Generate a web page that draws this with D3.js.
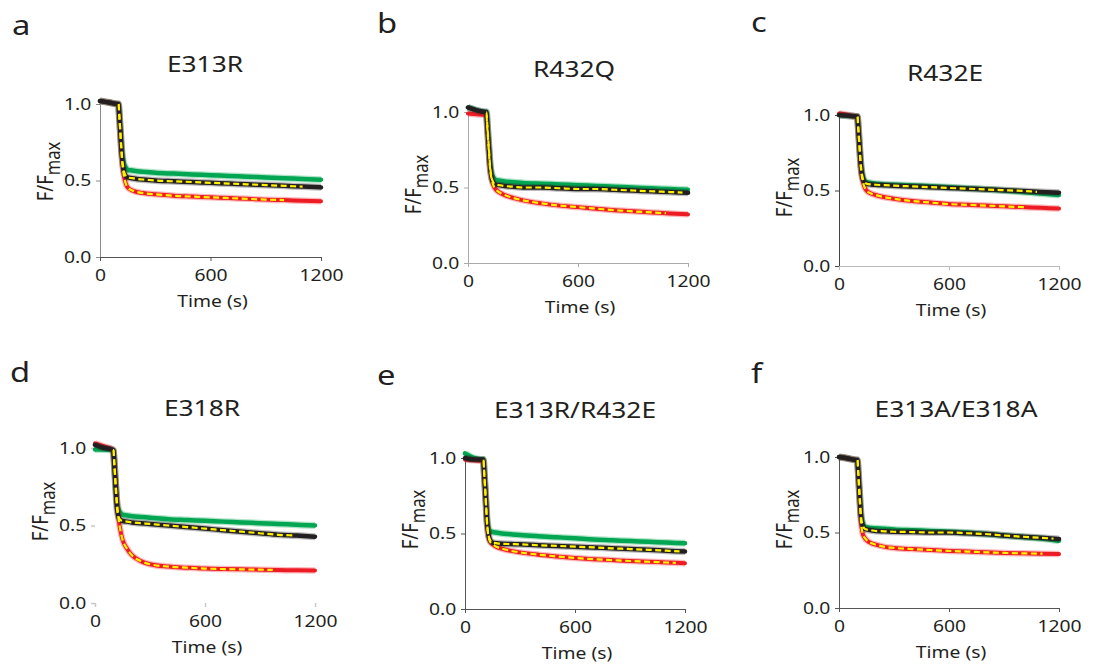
<!DOCTYPE html>
<html>
<head>
<meta charset="utf-8">
<script src="https://cdn.jsdelivr.net/npm/d3@7"></script>
<style>
body { margin: 0; background: #fff; }
svg { display: block; font-family: "Noto Sans", sans-serif; }
</style>
</head>
<body>
<svg id="chart" width="1094" height="668"></svg>
<script>
// Time points (s) shared by every trace
var timeS = [0, 50, 95, 100, 105, 110, 115, 120, 130, 140, 150, 175, 200, 250, 300, 400, 500, 600, 700, 800, 900, 1000, 1100, 1200];

// a - E313R
var e313rGreen = [1.02, 1.01, 1.0, 1.0, 0.93, 0.84, 0.75, 0.68, 0.61, 0.585, 0.57, 0.565, 0.56, 0.555, 0.55, 0.545, 0.54, 0.535, 0.53, 0.525, 0.52, 0.515, 0.51, 0.505];
var e313rBlack = [1.02, 1.01, 1.0, 1.0, 0.92, 0.83, 0.73, 0.65, 0.56, 0.53, 0.52, 0.515, 0.51, 0.505, 0.50, 0.495, 0.49, 0.485, 0.48, 0.475, 0.47, 0.465, 0.46, 0.455];
var e313rRed = [1.02, 1.01, 1.0, 1.0, 0.92, 0.82, 0.72, 0.63, 0.53, 0.48, 0.455, 0.435, 0.425, 0.415, 0.41, 0.40, 0.395, 0.39, 0.385, 0.38, 0.375, 0.372, 0.368, 0.365];

// b - R432Q
var r432qGreen = [1.03, 1.01, 1.0, 1.0, 0.93, 0.84, 0.75, 0.67, 0.59, 0.565, 0.55, 0.545, 0.54, 0.535, 0.53, 0.525, 0.52, 0.515, 0.51, 0.505, 0.50, 0.495, 0.49, 0.485];
var r432qBlack = [1.03, 1.01, 1.0, 1.0, 0.92, 0.83, 0.74, 0.65, 0.56, 0.53, 0.52, 0.515, 0.51, 0.505, 0.50, 0.50, 0.495, 0.49, 0.49, 0.485, 0.48, 0.475, 0.47, 0.465];
var r432qRed = [0.99, 0.985, 0.98, 0.98, 0.90, 0.81, 0.72, 0.63, 0.55, 0.51, 0.49, 0.465, 0.45, 0.43, 0.415, 0.395, 0.38, 0.37, 0.36, 0.35, 0.342, 0.335, 0.328, 0.322];

// c - R432E
var r432eGreen = [1.0, 0.995, 0.99, 0.99, 0.92, 0.83, 0.74, 0.66, 0.59, 0.565, 0.555, 0.55, 0.545, 0.54, 0.538, 0.533, 0.528, 0.522, 0.515, 0.508, 0.50, 0.49, 0.48, 0.47];
var r432eBlack = [1.0, 0.995, 0.99, 0.99, 0.92, 0.83, 0.74, 0.66, 0.58, 0.555, 0.545, 0.54, 0.538, 0.535, 0.532, 0.527, 0.522, 0.517, 0.512, 0.507, 0.502, 0.497, 0.49, 0.485];
var r432eRed = [1.01, 1.0, 0.99, 0.99, 0.91, 0.82, 0.72, 0.64, 0.56, 0.52, 0.50, 0.48, 0.47, 0.455, 0.445, 0.43, 0.42, 0.41, 0.405, 0.40, 0.395, 0.39, 0.385, 0.38];

// d - E318R
var e318rGreen = [0.99, 0.99, 0.985, 0.98, 0.91, 0.82, 0.73, 0.65, 0.60, 0.58, 0.57, 0.565, 0.56, 0.555, 0.55, 0.54, 0.535, 0.53, 0.525, 0.52, 0.515, 0.51, 0.505, 0.50];
var e318rBlack = [1.02, 1.0, 0.99, 0.985, 0.90, 0.80, 0.70, 0.61, 0.55, 0.535, 0.53, 0.525, 0.52, 0.515, 0.51, 0.50, 0.49, 0.48, 0.47, 0.46, 0.45, 0.44, 0.435, 0.428];
var e318rRed = [1.03, 1.01, 0.99, 0.985, 0.91, 0.82, 0.73, 0.65, 0.53, 0.46, 0.41, 0.35, 0.31, 0.27, 0.25, 0.235, 0.228, 0.222, 0.219, 0.217, 0.215, 0.213, 0.211, 0.21];

// e - E313R/R432E
var dblRRGreen = [1.03, 1.0, 0.99, 0.99, 0.90, 0.80, 0.70, 0.60, 0.53, 0.515, 0.51, 0.505, 0.50, 0.495, 0.49, 0.482, 0.475, 0.468, 0.46, 0.455, 0.45, 0.445, 0.44, 0.435];
var dblRRBlack = [1.0, 0.99, 0.99, 0.99, 0.90, 0.80, 0.69, 0.58, 0.48, 0.45, 0.44, 0.435, 0.432, 0.43, 0.428, 0.422, 0.418, 0.413, 0.408, 0.402, 0.397, 0.392, 0.386, 0.38];
var dblRRRed = [0.99, 0.985, 0.98, 0.98, 0.89, 0.79, 0.68, 0.57, 0.47, 0.44, 0.43, 0.41, 0.40, 0.385, 0.375, 0.36, 0.348, 0.338, 0.33, 0.324, 0.318, 0.313, 0.308, 0.303];

// f - E313A/E318A
var dblAAGreen = [1.0, 0.99, 0.98, 0.98, 0.90, 0.80, 0.70, 0.62, 0.56, 0.54, 0.535, 0.53, 0.528, 0.525, 0.52, 0.515, 0.51, 0.505, 0.50, 0.49, 0.48, 0.47, 0.46, 0.446];
var dblAABlack = [1.0, 0.99, 0.98, 0.98, 0.90, 0.80, 0.70, 0.61, 0.545, 0.525, 0.52, 0.515, 0.51, 0.508, 0.505, 0.503, 0.50, 0.50, 0.495, 0.49, 0.48, 0.472, 0.465, 0.457];
var dblAARed = [1.0, 0.99, 0.98, 0.98, 0.89, 0.78, 0.67, 0.57, 0.49, 0.465, 0.45, 0.43, 0.42, 0.405, 0.398, 0.39, 0.384, 0.378, 0.374, 0.369, 0.365, 0.362, 0.36, 0.357];

var panelLetters = ["a", "b", "c", "d", "e", "f"];
var panelTitles = ["E313R", "R432Q", "R432E", "E318R", "E313R/R432E", "E313A/E318A"];
var greenSeries = [e313rGreen, r432qGreen, r432eGreen, e318rGreen, dblRRGreen, dblAAGreen];
var blackSeries = [e313rBlack, r432qBlack, r432eBlack, e318rBlack, dblRRBlack, dblAABlack];
var redSeries = [e313rRed, r432qRed, r432eRed, e318rRed, dblRRRed, dblAARed];
// where the yellow fit curves stop (s)
var fitStart = 95;
var fitEndBlack = [1100, 1170, 1080, 1080, 1170, 1170];
var fitEndRed = [1000, 1080, 1010, 970, 1150, 1110];

var xTicks = [0, 600, 1200];
var yTicks = [0, 0.5, 1.0];

// page layout of each panel
var layout = [
    {x0: 100, x1: 321, yTop: 104, yBot: 257, tx: 205, ty: 72, lx: 12, ly: 35, labDy: -9, yc: "#8a8a8a", xc: "#555"},
    {x0: 468, x1: 688, yTop: 112, yBot: 263, tx: 574, ty: 77, lx: 377, ly: 33, labDy: -3, yc: "#aaa", xc: "#aaa"},
    {x0: 839, x1: 1059, yTop: 115, yBot: 266, tx: 945, ty: 81, lx: 751, ly: 32, labDy: -3, yc: "#444", xc: "#bbb"},
    {x0: 95, x1: 315, yTop: 448, yBot: 603, tx: 202, ty: 416, lx: 10, ly: 382, labDy: -14, yc: null, xc: null},
    {x0: 465, x1: 685, yTop: 458, yBot: 609, tx: 575, ty: 418, lx: 377, ly: 385, labDy: -14, yc: "#555", xc: "#555"},
    {x0: 839, x1: 1059, yTop: 457, yBot: 608, tx: 956, ty: 417, lx: 751, ly: 383, labDy: -13, yc: "#555", xc: "#555"}
];

var SX = 1.17;          // text in the figure is set wide
var ink = "#231f20";
var cGreen = "#00a651", cRed = "#ed1c24", cBlack = "#231f20", cYellow = "#fff200";

var svg = d3.select("#chart");

panelTitles.forEach(function (title, i) {
    var L = layout[i];
    var x = d3.scaleLinear().domain([0, 1200]).range([L.x0, L.x1]);
    var y = d3.scaleLinear().domain([0, 1]).range([L.yBot, L.yTop]);
    var g = svg.append("g");

    // Axes
    var yAxis = g.append("g")
        .attr("transform", "translate(" + L.x0 + ",0)")
        .call(d3.axisLeft(y).tickValues(yTicks).tickFormat(d3.format(".1f"))
            .tickSize(4).tickSizeOuter(0).tickPadding(3.5));
    var xAxis = g.append("g")
        .attr("transform", "translate(0," + L.yBot + ")")
        .call(d3.axisBottom(x).tickValues(xTicks).tickFormat(d3.format("d"))
            .tickSize(4).tickSizeOuter(0).tickPadding(8));

    [[yAxis, L.yc], [xAxis, L.xc]].forEach(function (p) {
        var ax = p[0], col = p[1];
        ax.attr("font-family", null).attr("font-size", null);
        if (col) {
            ax.select(".domain").attr("stroke", col).attr("stroke-width", 1);
            ax.selectAll(".tick line").attr("stroke", col);
        } else {
            ax.select(".domain").remove();
            ax.selectAll(".tick line").attr("stroke", "#c8c8c8").attr("stroke-width", 1.5);
        }
        ax.selectAll("text")
            .attr("fill", ink)
            .style("font-size", "16.5px")
            .attr("transform", "scale(" + SX + ",1)");
    });

    // Traces
    var line = d3.line()
        .x(function (d, j) { return x(timeS[j]); })
        .y(function (d) { return y(d); })
        .curve(d3.curveMonotoneX);

    [[greenSeries[i], cGreen, 4.5], [redSeries[i], cRed, 4], [blackSeries[i], cBlack, 4.5]].forEach(function (s) {
        g.append("path").datum(s[0])
            .attr("d", line).attr("fill", "none")
            .attr("stroke", s[1]).attr("stroke-width", s[2] + 2.5)
            .attr("stroke-opacity", 0.3).attr("stroke-linejoin", "round");
        g.append("path").datum(s[0])
            .attr("d", line).attr("fill", "none")
            .attr("stroke", s[1]).attr("stroke-width", s[2])
            .attr("stroke-linejoin", "round").attr("stroke-linecap", "round");
    });

    // Yellow dashed fits over black and red
    [[blackSeries[i], fitEndBlack[i], "fb"], [redSeries[i], fitEndRed[i], "fr"]].forEach(function (f) {
        var id = f[2] + i;
        svg.append("clipPath").attr("id", id)
            .append("rect")
            .attr("x", x(fitStart)).attr("y", L.yTop - 20)
            .attr("width", x(f[1]) - x(fitStart))
            .attr("height", L.yBot - L.yTop + 40);
        g.append("path").datum(f[0])
            .attr("d", line).attr("fill", "none")
            .attr("stroke", cYellow).attr("stroke-width", 2.2)
            .attr("stroke-dasharray", "6,3.5")
            .attr("clip-path", "url(#" + id + ")");
    });

    // Texts
    g.append("text")
        .attr("transform", "translate(" + L.lx + "," + L.ly + ") scale(" + SX + ",1)")
        .attr("fill", ink).style("font-size", "28px")
        .text(panelLetters[i]);

    g.append("text")
        .attr("transform", "translate(" + L.tx + "," + L.ty + ") scale(" + SX + ",1)")
        .attr("text-anchor", "middle").attr("fill", ink).style("font-size", "22.5px")
        .text(title);

    g.append("text")
        .attr("transform", "translate(" + ((L.x0 + L.x1) / 2 + 2) + "," + (L.yBot + 50) + ") scale(" + SX + ",1)")
        .attr("text-anchor", "middle").attr("fill", ink).style("font-size", "16.5px")
        .text("Time (s)");

    var yl = g.append("text")
        .attr("transform", "translate(" + (L.x0 - 47) + "," + ((L.yTop + L.yBot) / 2 + L.labDy) + ") scale(" + SX + ",1) rotate(-90)")
        .attr("text-anchor", "middle").attr("fill", ink).style("font-size", "18.5px");
    yl.append("tspan").text("F/F");
    yl.append("tspan").attr("dy", 6).style("font-size", "16.5px").text("max");
});
</script>
</body>
</html>
